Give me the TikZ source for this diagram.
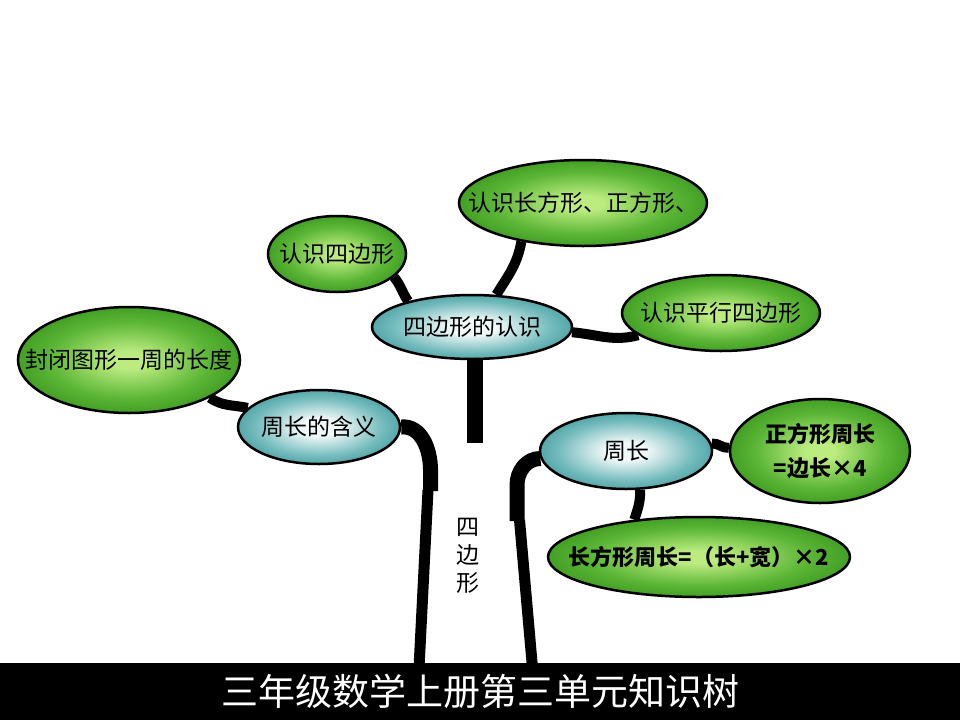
\documentclass[tikz,border=0pt]{standalone}
\usepackage{fontspec}
\setmainfont{Noto Sans CJK SC}
\usetikzlibrary{shapes.geometric,backgrounds}
\definecolor{gin}{HTML}{BCEC80}
\definecolor{gmid}{HTML}{5CB636}
\definecolor{gout}{HTML}{2A8A14}
\definecolor{tin}{HTML}{F0F8F8}
\definecolor{tmid}{HTML}{72BABC}
\definecolor{tout}{HTML}{248488}
\pgfdeclareradialshading{greenball}{\pgfpoint{0bp}{0bp}}{color(0bp)=(gin); color(4bp)=(gin); color(18bp)=(gmid); color(32bp)=(gout); color(50bp)=(gout)}
\pgfdeclareradialshading{tealball}{\pgfpoint{0bp}{0bp}}{color(0bp)=(tin); color(6bp)=(tin); color(20bp)=(tmid); color(34bp)=(tout); color(50bp)=(tout)}
\tikzset{
  leaf/.style={ellipse, draw=black, line width=2.5pt, shade, shading=greenball, inner sep=0pt, font=\fontsize{23}{23}\selectfont},
  hub/.style={ellipse, draw=black, line width=2.5pt, shade, shading=tealball, inner sep=0pt, font=\fontsize{23}{23}\selectfont},
  branch/.style={line width=10pt, black},
  trunk/.style={line width=15pt, black},
  root/.style={line width=11pt, black},
}
\begin{document}
\begin{tikzpicture}[x=1pt,y=-1pt]
\useasboundingbox (0,0) rectangle (960,720);
% nodes
\node[leaf, minimum width=248pt, minimum height=86pt] (A) at (583,203) {\makebox[0pt]{认识长方形、正方形、}};
\node[leaf, minimum width=138pt, minimum height=76pt] (B) at (337,254) {\makebox[0pt]{认识四边形}};
\node[hub, minimum width=200pt, minimum height=64pt] (C) at (472,327) {\makebox[0pt]{四边形的认识}};
\node[leaf, minimum width=198pt, minimum height=76pt] (D) at (721,313) {\makebox[0pt]{认识平行四边形}};
\node[leaf, minimum width=222pt, minimum height=106pt] (E) at (129,360) {\makebox[0pt]{封闭图形一周的长度}};
\node[hub, minimum width=162pt, minimum height=74pt] (F) at (319,427) {\makebox[0pt]{周长的含义}};
\node[hub, minimum width=172pt, minimum height=76pt] (G) at (626,451) {\makebox[0pt]{周长}};
\node[leaf, minimum width=180pt, minimum height=104pt, font=\bfseries\fontsize{22}{34}\selectfont, align=center] (H) at (820,451) {\makebox[0pt]{正方形周长}\\\makebox[0pt]{=边长×4}};
\node[leaf, minimum width=302pt, minimum height=80pt, font=\bfseries\fontsize{22}{22}\selectfont] (I) at (699,557) {\makebox[0pt]{长方形周长=（长+宽）×2}};
\node[font=\fontsize{23}{28}\selectfont, align=center] (V) at (468,556) {四\\边\\形};
% free ends
\coordinate (lup) at (430.5,470);
\coordinate (lmid) at (430.5,491);
\coordinate (lmid2) at (428,490);
\coordinate (lbot) at (419,668);
\coordinate (rup) at (517,485);
\coordinate (rmid) at (517,521);
\coordinate (rmid2) at (519.5,520);
\coordinate (rbot) at (532.5,668);
\coordinate (stemtop) at (475,345);
\coordinate (stembot) at (475,443);
\begin{scope}[on background layer]
\fill[white] (0,0) rectangle (960,720);
\draw[branch] (B.-22) to[out=-50,in=125] (C.158);
\draw[branch] (A.-148) to[out=-100,in=58] (C.53);
\draw[branch] (C.-3) to[out=-5,in=195] (D.195);
\draw[branch] (E.-25) to[out=-35,in=168] (F.165);
\draw[branch] (G.5) to[out=5,in=185] (H.178);
\draw[branch] (G.-70) to[out=-88,in=72] (I.150);
\draw[line width=16pt] (stemtop) -- (stembot);
\draw[trunk] (F.0) to[out=5,in=90] (lup) -- (lmid);
\draw[root] (lmid2) -- (lbot);
\draw[trunk] (G.185) to[out=180,in=90] (rup) -- (rmid);
\draw[root] (rmid2) -- (rbot);
\end{scope}
% bottom band
\fill[black] (0,663) rectangle (960,720) node[midway, text=white, font=\fontsize{37}{37}\selectfont] (T) {三年级数学上册第三单元知识树};
\end{tikzpicture}
\end{document}
